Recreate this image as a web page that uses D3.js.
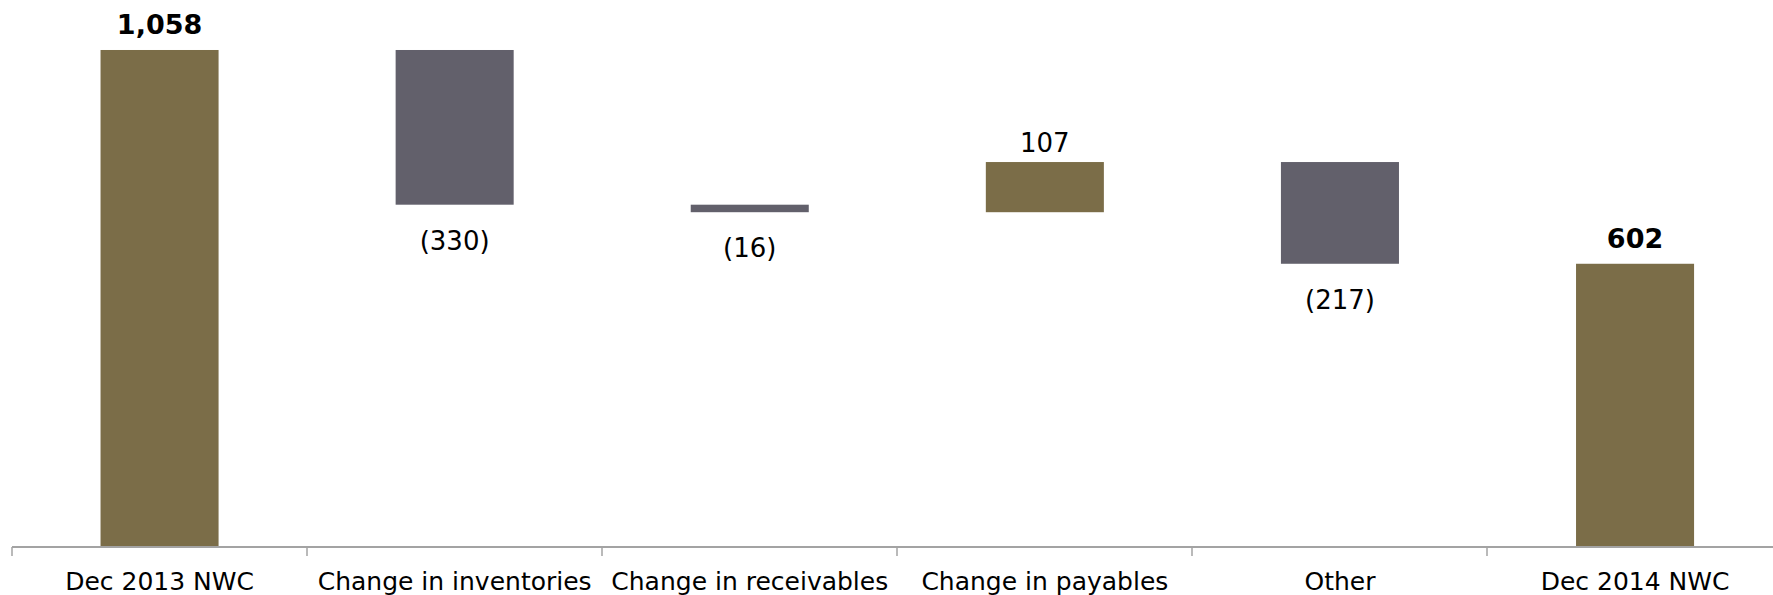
<!DOCTYPE html>
<html>
<head>
<meta charset="utf-8">
<script src="https://cdn.jsdelivr.net/npm/d3@7"></script>
<style>
  html, body { margin: 0; padding: 0; background: #ffffff; }
  svg { display: block; }
</style>
</head>
<body>
<svg id="chart" width="1773" height="595"></svg>
<script>
// Net working capital bridge, Dec 2013 to Dec 2014
const categories = [
  "Dec 2013 NWC",
  "Change in inventories",
  "Change in receivables",
  "Change in payables",
  "Other",
  "Dec 2014 NWC"
];
// step values; totals are the opening / closing balances
const values = [1058, -330, -16, 107, -217, 602];
const isTotal = [true, false, false, false, false, true];
const valueLabels = ["1,058", "(330)", "(16)", "107", "(217)", "602"];

const W = 1773, H = 595;
const baseY = 546;
const svg = d3.select("#chart");

const colUp = "#7b6d48";
const colDown = "#62606b";
const axisCol = "#a3a3a3";

// running totals for floating bars
let run = 0;
const bars = categories.map((c, i) => {
  let lo, hi;
  if (isTotal[i]) {
    lo = 0; hi = values[i]; run = values[i];
  } else {
    const start = run;
    run = run + values[i];
    lo = Math.min(start, run); hi = Math.max(start, run);
  }
  return { cat: c, v: values[i], lo, hi, total: isTotal[i], label: valueLabels[i] };
});

const x = d3.scaleBand()
  .domain(categories)
  .range([12, 1782.6])
  .paddingInner(0.6)
  .paddingOuter(0.3);

const y = d3.scaleLinear()
  .domain([0, 1100])
  .range([baseY, 30.3]);

// bars
svg.append("g").selectAll("rect")
  .data(bars)
  .join("rect")
  .attr("x", d => x(d.cat))
  .attr("width", x.bandwidth())
  .attr("y", d => y(d.hi))
  .attr("height", d => Math.max(1, y(d.lo) - y(d.hi)))
  .attr("fill", d => (d.total || d.v >= 0) ? colUp : colDown);

// value labels: totals bold above, increases above, decreases below
svg.append("g").selectAll("text")
  .data(bars)
  .join("text")
  .attr("x", d => x(d.cat) + x.bandwidth() / 2)
  .attr("y", d => d.total ? y(d.hi) - 16 : (d.v >= 0 ? y(d.hi) - 10 : y(d.lo) + 45))
  .attr("text-anchor", "middle")
  .attr("font-family", "Verdana, 'DejaVu Sans', sans-serif")
  .attr("font-size", d => d.total ? 27 : 26)
  .attr("font-weight", d => d.total ? "bold" : "normal")
  .attr("fill", "#000")
  .text(d => d.label);

// category axis
const axisG = svg.append("g").attr("transform", `translate(0,${baseY + 1})`);
axisG.append("line")
  .attr("x1", 12).attr("x2", W)
  .attr("y1", 0).attr("y2", 0)
  .attr("stroke", axisCol).attr("stroke-width", 2);

const half = x.step() * x.paddingInner() / 2;
axisG.append("g").selectAll("line")
  .data(categories)
  .join("line")
  .attr("x1", d => Math.round(x(d) - half))
  .attr("x2", d => Math.round(x(d) - half))
  .attr("y1", 0).attr("y2", 9)
  .attr("stroke", axisCol).attr("stroke-width", 1.5);

const labelAxis = d3.axisBottom(x).tickSize(0).tickPadding(0);
const lg = svg.append("g")
  .attr("transform", `translate(0,${baseY})`)
  .call(labelAxis);
lg.select(".domain").remove();
lg.selectAll("text")
  .attr("y", 44)
  .attr("dy", null)
  .attr("font-family", "Verdana, 'DejaVu Sans', sans-serif")
  .attr("font-size", 25)
  .attr("fill", "#000");
</script>
</body>
</html>
